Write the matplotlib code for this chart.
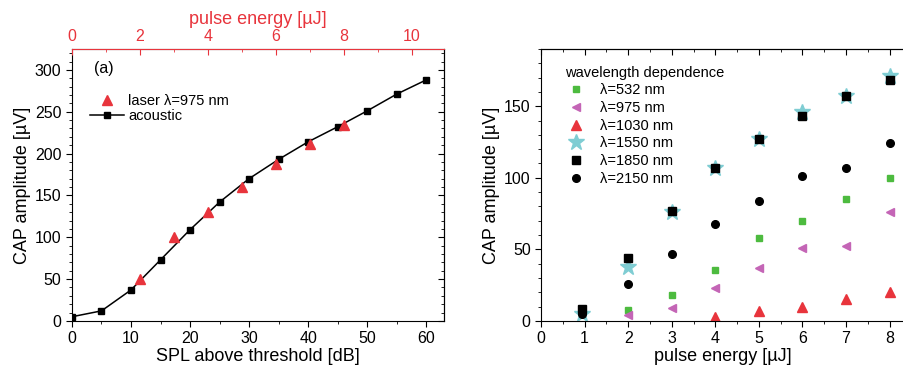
import matplotlib
matplotlib.use("Agg")
import matplotlib.pyplot as plt
from matplotlib.ticker import MultipleLocator, NullFormatter

plt.rcParams["font.family"] = ["Liberation Sans", "DejaVu Sans"]

# ── Data ──────────────────────────────────────────────────────────────────────
# (a) acoustic stimulation vs SPL, laser (975 nm) vs pulse energy
spl_db        = [0, 5, 10, 15, 20, 25, 30, 35, 40, 45, 50, 55, 60]
acoustic_cap  = [5, 12, 37, 73, 109, 142, 170, 193, 214, 232, 251, 271, 288]
laser_energy  = [2, 3, 4, 5, 6, 7, 8]
laser_cap     = [50, 100, 130, 160, 187, 211, 234]

# wavelength dependence
e_532  = [2, 3, 4, 5, 6, 7, 8]
c_532  = [7.5, 18, 35.5, 58, 70, 85, 100]
e_975  = [2, 3, 4, 5, 6, 7, 8]
c_975  = [4, 9, 23, 37, 51, 52, 76]
e_1030 = [4, 5, 6, 7, 8]
c_1030 = [3, 7, 10, 15, 20]
e_1550 = [0.93, 2, 3, 4, 5, 6, 7, 8]
c_1550 = [5, 38, 76, 107, 127, 146, 157, 171]
e_1850 = [0.93, 2, 3, 4, 5, 6, 7, 8]
c_1850 = [8, 44, 77, 107, 127, 143, 157, 168]
e_2150 = [0.93, 2, 3, 4, 5, 6, 7, 8]
c_2150 = [5, 26, 47, 68, 84, 101, 107, 124]

RED     = "#e8343c"
GREEN   = "#4dbb3f"
MAGENTA = "#c465b6"
CYAN    = "#7fcdd3"


def style_ticks(axis, direction, **kw):
    axis.tick_params(which="both", direction=direction, **kw)
    axis.tick_params(which="major", length=4)
    axis.tick_params(which="minor", length=2)


fig = plt.figure(figsize=(9.04, 3.71), dpi=100)

# ── Left panel ────────────────────────────────────────────────────────────────
ax = fig.add_axes([0.0796, 0.135, 0.4114, 0.733])
ac, = ax.plot(spl_db, acoustic_cap, "-s", color="black", lw=1.1, ms=4.5,
              label="acoustic")
ax.set_xlim(0, 63)
ax.set_ylim(0, 325)
ax.xaxis.set_major_locator(MultipleLocator(10))
ax.xaxis.set_minor_locator(MultipleLocator(5))
ax.yaxis.set_major_locator(MultipleLocator(50))
ax.yaxis.set_minor_locator(MultipleLocator(10))
style_ticks(ax, "out", labelsize=11.5, top=False)
ax.set_xlabel("SPL above threshold [dB]", fontsize=13, labelpad=1)
ax.set_ylabel("CAP amplitude [µV]", fontsize=13, labelpad=3)
ax.text(0.06, 0.93, "(a)", transform=ax.transAxes, fontsize=11.5, va="center")

# right spine with inward ticks
ay = ax.secondary_yaxis("right")
ay.yaxis.set_major_locator(MultipleLocator(50))
ay.yaxis.set_minor_locator(MultipleLocator(10))
ay.yaxis.set_major_formatter(NullFormatter())
style_ticks(ay, "in")

ax2 = ax.twiny()
la, = ax2.plot(laser_energy, laser_cap, "^", color=RED, ms=6.5, ls="none",
               label="laser λ=975 nm")
ax2.set_xlim(0, 63 * 10 / 57.6)
ax2.xaxis.set_major_locator(MultipleLocator(2))
ax2.xaxis.set_minor_locator(MultipleLocator(1))
style_ticks(ax2, "in", colors=RED, labelsize=11.5)
ax2.spines["top"].set_color(RED)
ax2.set_xlabel("pulse energy [µJ]", color=RED, fontsize=13, labelpad=4)
for sp in ("left", "right", "bottom"):
    ax2.spines[sp].set_visible(False)

ax2.legend(handles=[la, ac], loc="upper left", bbox_to_anchor=(0.03, 0.86),
           frameon=False, fontsize=10.5, borderpad=0, handlelength=2.3,
           handletextpad=0.3, labelspacing=0.05)

# ── Right panel ───────────────────────────────────────────────────────────────
bx = fig.add_axes([0.5985, 0.135, 0.4015, 0.733])
bx.plot(e_532, c_532, "s", color=GREEN, ms=4.5, label="λ=532 nm")
bx.plot(e_975, c_975, "<", color=MAGENTA, ms=5.5, label="λ=975 nm")
bx.plot(e_1030, c_1030, "^", color=RED, ms=6.5, label="λ=1030 nm")
bx.plot(e_1550, c_1550, "*", color=CYAN, ms=12, label="λ=1550 nm")
bx.plot(e_1850, c_1850, "s", color="black", ms=5.5, label="λ=1850 nm")
bx.plot(e_2150, c_2150, "o", color="black", ms=5.5, label="λ=2150 nm")
bx.set_xlim(0, 8.33)
bx.set_ylim(0, 190)
bx.xaxis.set_major_locator(MultipleLocator(1))
bx.xaxis.set_minor_locator(MultipleLocator(0.5))
bx.yaxis.set_major_locator(MultipleLocator(50))
bx.yaxis.set_minor_locator(MultipleLocator(10))
style_ticks(bx, "out", labelsize=11.5)
bx.spines["right"].set_visible(False)
bx.set_xlabel("pulse energy [µJ]", fontsize=13, labelpad=1)
bx.set_ylabel("CAP amplitude [µV]", fontsize=13, labelpad=3)

# top spine with inward ticks
bt = bx.secondary_xaxis("top")
bt.xaxis.set_major_locator(MultipleLocator(1))
bt.xaxis.set_minor_locator(MultipleLocator(0.5))
bt.xaxis.set_major_formatter(NullFormatter())
style_ticks(bt, "in")

bx.legend(title="wavelength dependence", loc="upper left",
          bbox_to_anchor=(0.045, 0.965), frameon=False, fontsize=10.5,
          title_fontsize=10.5, alignment="left", borderpad=0,
          handlelength=1.6, handletextpad=0.8, labelspacing=0.25)

fig.savefig("out.png", dpi=100)
